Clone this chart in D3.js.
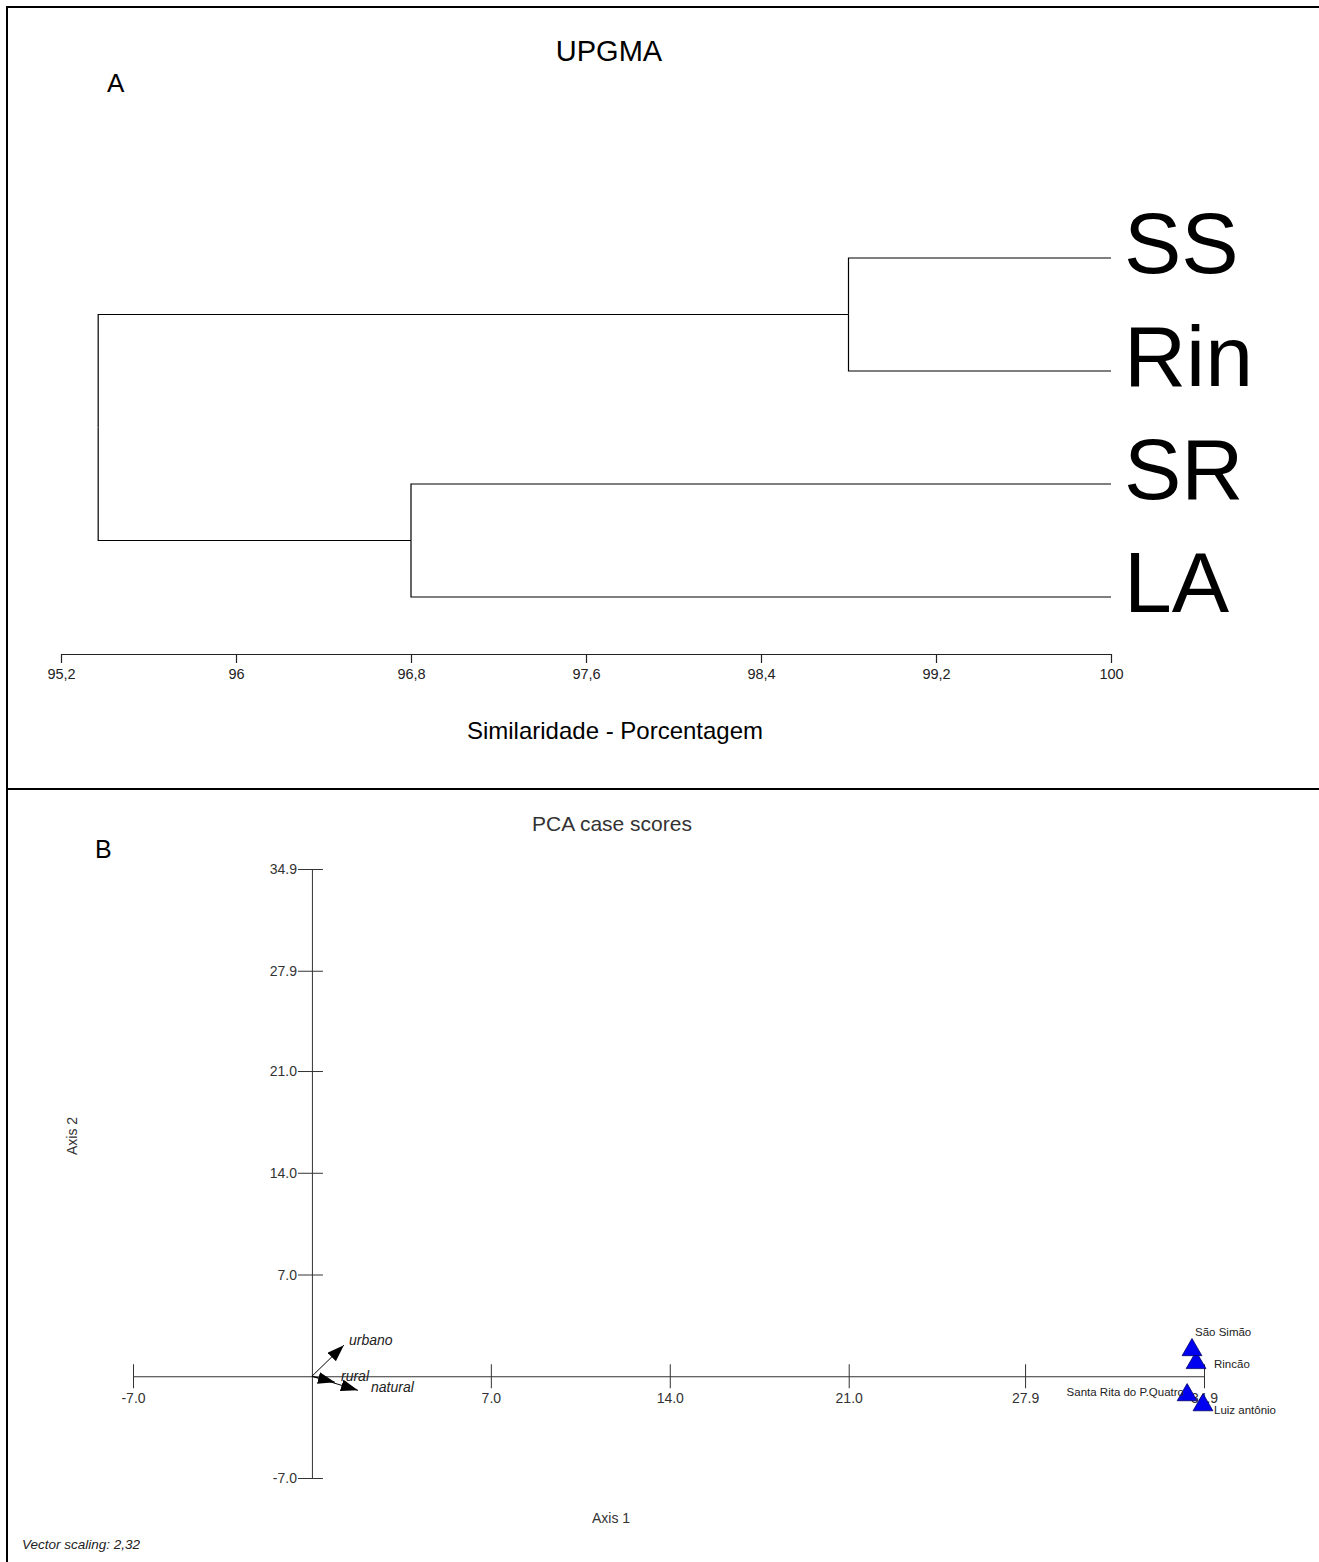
<!DOCTYPE html>
<html>
<head>
<meta charset="utf-8">
<script src="https://cdn.jsdelivr.net/npm/d3@7"></script>
<style>
  html, body { margin: 0; padding: 0; background: #fff; }
  svg { display: block; font-family: "Liberation Sans", Arial, sans-serif; }
</style>
</head>
<body>
<svg id="fig" width="1319" height="1562"></svg>
<script>
// ---- Panel A: UPGMA dendrogram ----
const leafNames = ["SS", "Rin", "SR", "LA"];
const clusterNames = ["SS+Rin", "SR+LA", "root"];
const clusterChildren = [["SS", "Rin"], ["SR", "LA"], ["SS+Rin", "SR+LA"]];
const clusterSimilarity = [98.80, 96.80, 95.37];
const similarityTicks = [95.2, 96, 96.8, 97.6, 98.4, 99.2, 100];

// ---- Panel B: PCA case scores ----
const siteNames = ["Rincão", "São Simão", "Santa Rita do P.Quatro", "Luiz antônio"];
const axis1Scores = [34.59, 34.43, 34.24, 34.86];
const axis2Scores = [0.92, 1.81, -1.29, -1.98];
const vectorNames = ["urbano", "rural", "natural"];
const vectorAxis1 = [1.25, 0.90, 1.80];
const vectorAxis2 = [2.14, -0.41, -0.97];
const pcaTicks = [-7.0, 7.0, 14.0, 21.0, 27.9, 34.9];

const svg = d3.select("#fig");

// outer frame and panel divider
svg.append("rect").attr("x", 7).attr("y", 7).attr("width", 1400).attr("height", 1600)
  .attr("fill", "none").attr("stroke", "#000").attr("stroke-width", 2);
svg.append("line").attr("x1", 7).attr("x2", 1319).attr("y1", 789).attr("y2", 789)
  .attr("stroke", "#000").attr("stroke-width", 2);

// ================= Panel A =================
const gA = svg.append("g");
gA.append("text").attr("x", 609).attr("y", 61).attr("text-anchor", "middle")
  .attr("font-size", 29).attr("fill", "#000").text("UPGMA");
gA.append("text").attr("x", 107).attr("y", 92)
  .attr("font-size", 26).attr("fill", "#000").text("A");

const xSim = d3.scaleLinear().domain([95.2, 100]).range([61, 1111]);
const yLeaf = d3.scalePoint().domain(leafNames).range([258, 597]);

// node positions: leaves at similarity 100, clusters at their merge level
const nodeX = {}, nodeY = {};
leafNames.forEach(n => { nodeX[n] = xSim(100); nodeY[n] = yLeaf(n); });
clusterNames.forEach((n, i) => {
  const [a, b] = clusterChildren[i];
  nodeX[n] = xSim(clusterSimilarity[i]);
  nodeY[n] = (nodeY[a] + nodeY[b]) / 2;
});

const treeG = gA.append("g").attr("stroke", "#000").attr("stroke-width", 1.2).attr("fill", "none");
clusterNames.forEach((n, i) => {
  const cx = nodeX[n];
  clusterChildren[i].forEach(c => {
    treeG.append("path").attr("d", `M${cx},${nodeY[n]}V${nodeY[c]}H${nodeX[c]}`);
  });
});

gA.selectAll("text.leaf").data(leafNames).join("text").attr("class", "leaf")
  .attr("x", 1124).attr("y", d => yLeaf(d) + 15)
  .attr("font-size", 86).attr("fill", "#000").text(d => d);

const simAxis = d3.axisBottom(xSim).tickValues(similarityTicks).tickSize(9).tickSizeOuter(0)
  .tickFormat(d => String(d).replace(".", ","));
const simAxisG = gA.append("g").attr("transform", "translate(0,654)").call(simAxis);
simAxisG.select(".domain").attr("stroke", "#222").attr("stroke-width", 1.2);
simAxisG.selectAll(".tick line").attr("stroke", "#222").attr("stroke-width", 1.2);
simAxisG.selectAll(".tick text").attr("y", 25).attr("dy", 0)
  .attr("font-size", 14.5).attr("font-family", "Liberation Sans, Arial, sans-serif").attr("fill", "#222");

gA.append("text").attr("x", 615).attr("y", 739).attr("text-anchor", "middle")
  .attr("font-size", 24).attr("fill", "#000").text("Similaridade - Porcentagem");

// ================= Panel B =================
const gB = svg.append("g");
gB.append("text").attr("x", 612).attr("y", 831).attr("text-anchor", "middle")
  .attr("font-size", 21).attr("fill", "#333").text("PCA case scores");
gB.append("text").attr("x", 95).attr("y", 858)
  .attr("font-size", 25).attr("fill", "#000").text("B");

const xPca = d3.scaleLinear().domain([-7, 34.9]).range([133, 1204]);
const yPca = d3.scaleLinear().domain([-7, 34.9]).range([1478, 869]);
const fmt = d => d.toFixed(1);

// horizontal axis through y = 0, ticks crossing the line
const xAxisG = gB.append("g").attr("transform", `translate(0,${yPca(0)})`)
  .call(d3.axisBottom(xPca).tickValues(pcaTicks).tickFormat(fmt).tickSizeOuter(0));
xAxisG.select(".domain").attr("stroke", "#333");
xAxisG.selectAll(".tick line").attr("y1", -12).attr("y2", 12).attr("stroke", "#333");
xAxisG.selectAll(".tick text").attr("y", 27).attr("dy", 0)
  .attr("font-size", 14).attr("font-family", "Liberation Sans, Arial, sans-serif").attr("fill", "#333");

// vertical axis through x = 0
const yAxisG = gB.append("g").attr("transform", `translate(${xPca(0)},0)`)
  .call(d3.axisLeft(yPca).tickValues(pcaTicks).tickFormat(fmt).tickSizeOuter(0));
yAxisG.select(".domain").attr("stroke", "#333");
yAxisG.selectAll(".tick line").attr("x1", -14).attr("x2", 11).attr("stroke", "#333");
yAxisG.selectAll(".tick text").attr("x", -15).attr("dy", "0.35em")
  .attr("font-size", 14).attr("font-family", "Liberation Sans, Arial, sans-serif").attr("fill", "#333");

gB.append("text").attr("x", 611).attr("y", 1523).attr("text-anchor", "middle")
  .attr("font-size", 14).attr("fill", "#333").text("Axis 1");
gB.append("text").attr("transform", "translate(77,1136) rotate(-90)").attr("text-anchor", "middle")
  .attr("font-size", 14).attr("fill", "#333").text("Axis 2");

// environmental vectors
const defs = svg.append("defs");
defs.append("marker").attr("id", "head").attr("markerUnits", "userSpaceOnUse")
  .attr("markerWidth", 20).attr("markerHeight", 14).attr("refX", 17).attr("refY", 6)
  .attr("orient", "auto")
  .append("path").attr("d", "M0,0L17,6L0,12Z").attr("fill", "#000");

const vecG = gB.append("g");
vectorNames.forEach((n, i) => {
  vecG.append("line")
    .attr("x1", xPca(0)).attr("y1", yPca(0))
    .attr("x2", xPca(vectorAxis1[i])).attr("y2", yPca(vectorAxis2[i]))
    .attr("stroke", "#000").attr("stroke-width", 1).attr("marker-end", "url(#head)");
});
const vecLabelX = [349, 341, 371], vecLabelY = [1345, 1381, 1392];
vectorNames.forEach((n, i) => {
  vecG.append("text")
    .attr("x", vecLabelX[i]).attr("y", vecLabelY[i])
    .attr("font-size", 14).attr("font-style", "italic").attr("fill", "#222").text(n);
});

// site scores
const tri = d3.symbol().type(d3.symbolTriangle).size(170);
const ptG = gB.append("g");
siteNames.forEach((n, i) => {
  ptG.append("path").attr("d", tri)
    .attr("transform", `translate(${xPca(axis1Scores[i])},${yPca(axis2Scores[i])})`)
    .attr("fill", "#0000f0").attr("stroke", "#00006a").attr("stroke-width", 0.8);
});
const siteLabelX = [1214, 1195, 1184, 1214];
const siteLabelY = [1368, 1336, 1396, 1414];
const siteAnchor = ["start", "start", "end", "start"];
siteNames.forEach((n, i) => {
  ptG.append("text").attr("x", siteLabelX[i]).attr("y", siteLabelY[i])
    .attr("text-anchor", siteAnchor[i]).attr("font-size", 11.5).attr("fill", "#222").text(n);
});

gB.append("text").attr("x", 22).attr("y", 1549).attr("font-size", 13.5)
  .attr("font-style", "italic").attr("fill", "#222").text("Vector scaling: 2,32");
</script>
</body>
</html>
